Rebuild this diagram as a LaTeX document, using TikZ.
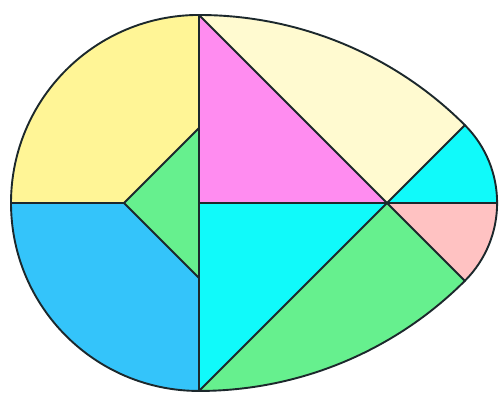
\documentclass[tikz,border=0pt]{standalone}
\definecolor{cyel}{RGB}{255,245,150}
\definecolor{clyel}{RGB}{255,250,208}
\definecolor{cmag}{RGB}{255,140,240}
\definecolor{ccyan}{RGB}{16,250,250}
\definecolor{cpink}{RGB}{255,194,194}
\definecolor{cgreen}{RGB}{102,240,142}
\definecolor{cblue}{RGB}{52,196,250}
\definecolor{cline}{RGB}{28,40,44}
\begin{document}
\begin{tikzpicture}[x=1pt,y=1pt,
  edge/.style={draw=cline,line width=1.9pt,line join=round,line cap=round}]
\useasboundingbox (0,0) rectangle (501,401);
\fill[white] (0,0) rectangle (501,401);
% key points (r = 188)
\coordinate (O) at (199,198);
\coordinate (A) at (199,386);
\coordinate (B) at (199,10);
\coordinate (L) at (11,198);
\coordinate (P) at (387,198);
\coordinate (Rt) at (497.1,198);
\coordinate (Q) at (464.9,275.9);
\coordinate (R) at (464.9,120.1);
\coordinate (G1) at (124,198);
\coordinate (G2) at (199,273);
\coordinate (G3) at (199,123);
% pieces
\fill[cyel] (L) arc[start angle=180,end angle=90,radius=188] -- (G2) -- (G1) -- cycle;
\fill[cblue] (L) -- (G1) -- (G3) -- (B) arc[start angle=270,end angle=180,radius=188] -- cycle;
\fill[cgreen] (G1) -- (G2) -- (G3) -- cycle;
\fill[cmag] (A) -- (P) -- (O) -- cycle;
\fill[clyel] (A) arc[start angle=90,end angle=45,radius=376] -- (P) -- cycle;
\fill[ccyan] (P) -- (Q) arc[start angle=45,end angle=0,radius=110.1] -- cycle;
\fill[cpink] (P) -- (Rt) arc[start angle=0,end angle=-45,radius=110.1] -- cycle;
\fill[cgreen] (P) -- (R) arc[start angle=-45,end angle=-90,radius=376] -- cycle;
\fill[ccyan] (O) -- (P) -- (B) -- cycle;
% lines
\draw[edge] (A) -- (B);
\draw[edge] (L) -- (G1);
\draw[edge] (O) -- (Rt);
\draw[edge] (A) -- (R);
\draw[edge] (B) -- (Q);
\draw[edge] (G3) -- (G1) -- (G2);
\draw[edge] (A) arc[start angle=90,end angle=45,radius=376]
  arc[start angle=45,end angle=-45,radius=110.1]
  arc[start angle=-45,end angle=-90,radius=376]
  arc[start angle=270,end angle=90,radius=188] -- cycle;
\end{tikzpicture}
\end{document}
